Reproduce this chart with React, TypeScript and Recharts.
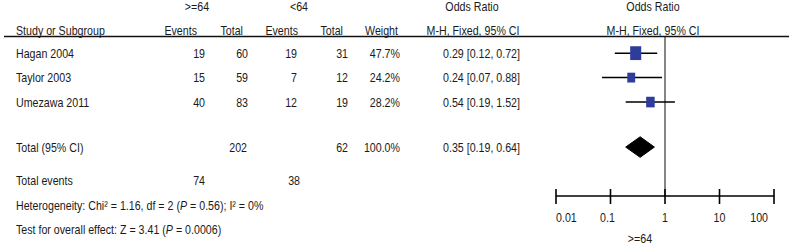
import React from 'react';
import { ComposedChart, Scatter, Area, XAxis, YAxis, ReferenceLine, ErrorBar } from 'recharts';

// ---------- data ----------
const studies = ['Hagan 2004', 'Taylor 2003', 'Umezawa 2011'];
const eventsOld = [19, 15, 40];
const totalOld = [60, 59, 83];
const eventsYoung = [19, 7, 12];
const totalYoung = [31, 12, 19];
const weights = [47.7, 24.2, 28.2];
const oddsRatio = [0.29, 0.24, 0.54];
const ciLow = [0.12, 0.07, 0.19];
const ciHigh = [0.72, 0.88, 1.52];
const studyRows = [0.66, 1.66, 2.66];

const pooled = { or: 0.35, lo: 0.19, hi: 0.64, row: 4.5 };
const totals = { totalOld: 202, totalYoung: 62, weight: '100.0%', eventsOld: 74, eventsYoung: 38 };

const xTicks = [0.01, 0.1, 1, 10, 100];
const xTickLabels = ['0.01', '0.1', '1', '10', '100'];

// ---------- layout / style ----------
const W = 789;
const H = 245;
const PLOT_TOP = 37;
const PLOT_BOTTOM = 196;
const PLOT_LEFT = 556;
const PLOT_RIGHT = 774;
const Y_MAX = 6.5;
const rowPx = (r: number) => PLOT_TOP + (r * (PLOT_BOTTOM - PLOT_TOP)) / Y_MAX;
const FONT = "'Liberation Sans', Arial, sans-serif";
const FS = 13;
const SX = 0.82;
const TXT = '#1a1a1a';
const BLUE = '#2E3D9C';
const DIAMOND_HALF = 0.42;

const fmtCI = (o: number, l: number, h: number) => `${o.toFixed(2)} [${l.toFixed(2)}, ${h.toFixed(2)}]`;

const scatterData = studies.map((s, i) => ({
  name: s,
  x: oddsRatio[i],
  y: studyRows[i],
  w: weights[i],
  ci: [oddsRatio[i] - ciLow[i], ciHigh[i] - oddsRatio[i]],
}));

const diamondData = [
  { x: pooled.lo, band: [pooled.row, pooled.row] },
  { x: pooled.or, band: [pooled.row - DIAMOND_HALF, pooled.row + DIAMOND_HALF] },
  { x: pooled.hi, band: [pooled.row, pooled.row] },
];

function T({ x, y, anchor = 'start', children, size = FS }: any) {
  return (
    <text
      transform={`translate(${x},${y + 4.6}) scale(${SX},1)`}
      textAnchor={anchor}
      fontFamily={FONT}
      fontSize={size}
      fill={TXT}
    >
      {children}
    </text>
  );
}

const Square = (props: any) => {
  const { cx, cy, payload } = props;
  if (cx == null || cy == null) return null;
  const w = 1.6 * Math.sqrt(payload.w);
  const h = w * 1.25;
  return <rect x={cx - w / 2} y={cy - h / 2} width={w} height={h} fill={BLUE} />;
};

const Tick = (props: any) => {
  const { x, y, payload, index } = props;
  const i = xTicks.indexOf(payload.value);
  const label = xTickLabels[i >= 0 ? i : index];
  let anchor = 'middle';
  let dx = 0;
  if (i === 0) { anchor = 'start'; dx = 0; }
  if (i === 1) { dx = -3; }
  if (i === xTicks.length - 1) { anchor = 'end'; dx = -6; }
  return (
    <g>
      <line x1={x} x2={x} y1={y - 7} y2={y + 8} stroke="#000" strokeWidth={1.6} />
      <text
        transform={`translate(${x + dx},${y + 25.5}) scale(${SX},1)`}
        textAnchor={anchor}
        fontFamily={FONT}
        fontSize={FS}
        fill={TXT}
      >
        {label}
      </text>
    </g>
  );
};

export default function App() {
  const rowY = studyRows.map(rowPx);
  const totalY = rowPx(pooled.row);
  const totEvY = 180;
  const hetY = 205;
  const testY = 229;
  return (
    <div style={{ position: 'absolute', left: 0, top: 0, width: W, height: H, background: '#fff' }}>
      <ComposedChart
        width={W}
        height={H}
        margin={{ top: PLOT_TOP, right: W - PLOT_RIGHT, bottom: H - PLOT_BOTTOM - 30, left: PLOT_LEFT }}
      >
        <XAxis
          type="number"
          dataKey="x"
          scale="log"
          domain={[0.01, 100]}
          ticks={xTicks}
          allowDataOverflow
          height={30}
          tickSize={0}
          tickMargin={0}
          tickLine={false}
          axisLine={{ stroke: '#000', strokeWidth: 1.6 }}
          tick={<Tick />}
          interval={0}
        />
        <YAxis type="number" dataKey="y" domain={[0, Y_MAX]} reversed hide />
        <ReferenceLine x={1} stroke="#444" strokeWidth={1.3} />
        <Area
          data={diamondData}
          dataKey="band"
          type="linear"
          fill="#000"
          fillOpacity={1}
          stroke="#000"
          strokeWidth={1}
          isAnimationActive={false}
          dot={false}
          activeDot={false}
        />
        <Scatter data={scatterData} shape={<Square />} isAnimationActive={false}>
          <ErrorBar dataKey="ci" direction="x" width={0} stroke="#000" strokeWidth={1.5} isAnimationActive={false} />
        </Scatter>
      </ComposedChart>
      <svg width={W} height={H} style={{ position: 'absolute', left: 0, top: 0, pointerEvents: 'none' }}>
        <line x1={4} x2={W} y1={36.5} y2={36.5} stroke="#111" strokeWidth={1.5} />
        {/* header row 1 */}
        <T x={197} y={6} anchor="middle">&gt;=64</T>
        <T x={299} y={6} anchor="middle">&lt;64</T>
        <T x={472} y={6} anchor="middle">Odds Ratio</T>
        <T x={653} y={6} anchor="middle">Odds Ratio</T>
        {/* header row 2 */}
        <T x={16} y={30}>Study or Subgroup</T>
        <T x={197} y={30} anchor="end">Events</T>
        <T x={243} y={30} anchor="end">Total</T>
        <T x={298} y={30} anchor="end">Events</T>
        <T x={343} y={30} anchor="end">Total</T>
        <T x={398} y={30} anchor="end">Weight</T>
        <T x={473} y={30} anchor="middle">M-H, Fixed, 95% CI</T>
        <T x={653} y={30} anchor="middle">M-H, Fixed, 95% CI</T>
        {studies.map((s, i) => (
          <g key={s}>
            <T x={16} y={rowY[i]}>{s}</T>
            <T x={205} y={rowY[i]} anchor="end">{eventsOld[i]}</T>
            <T x={248} y={rowY[i]} anchor="end">{totalOld[i]}</T>
            <T x={297} y={rowY[i]} anchor="end">{eventsYoung[i]}</T>
            <T x={348} y={rowY[i]} anchor="end">{totalYoung[i]}</T>
            <T x={400} y={rowY[i]} anchor="end">{`${weights[i].toFixed(1)}%`}</T>
            <T x={520} y={rowY[i]} anchor="end">{fmtCI(oddsRatio[i], ciLow[i], ciHigh[i])}</T>
          </g>
        ))}
        <T x={16} y={totalY}>Total (95% CI)</T>
        <T x={247} y={totalY} anchor="end">{totals.totalOld}</T>
        <T x={348} y={totalY} anchor="end">{totals.totalYoung}</T>
        <T x={400} y={totalY} anchor="end">{totals.weight}</T>
        <T x={520} y={totalY} anchor="end">{fmtCI(pooled.or, pooled.lo, pooled.hi)}</T>
        <T x={16} y={totEvY}>Total events</T>
        <T x={205} y={totEvY} anchor="end">{totals.eventsOld}</T>
        <T x={300} y={totEvY} anchor="end">{totals.eventsYoung}</T>
        <T x={16} y={hetY}>
          Heterogeneity: Chi² = 1.16, df = 2 (<tspan fontStyle="italic">P</tspan> = 0.56); I² = 0%
        </T>
        <T x={16} y={testY}>
          Test for overall effect: Z = 3.41 (<tspan fontStyle="italic">P</tspan> = 0.0006)
        </T>
        <T x={640} y={238} anchor="middle">&gt;=64</T>
      </svg>
    </div>
  );
}
